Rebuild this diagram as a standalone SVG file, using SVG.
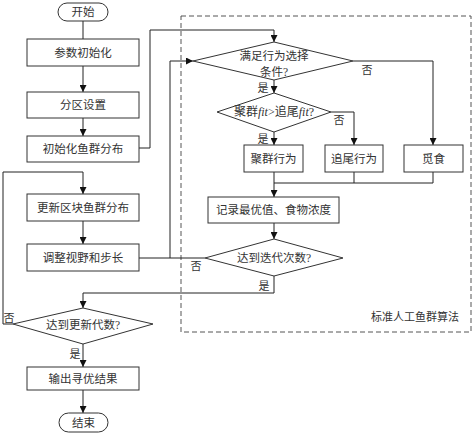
<svg xmlns="http://www.w3.org/2000/svg" width="474" height="435" viewBox="0 0 474 435">
<defs>
<marker id="ah" viewBox="0 0 10 10" refX="10" refY="5" markerWidth="7" markerHeight="7" orient="auto" markerUnits="userSpaceOnUse">
<path d="M0,0 L10,5 L0,10 z" fill="#111"/>
</marker>
<style>
.n{fill:#fff;stroke:#333;stroke-width:1}
.t{font-family:"Liberation Serif","Noto Sans CJK SC",serif;font-size:11.5px;fill:#333;text-anchor:middle;dominant-baseline:central}
.l{font-family:"Liberation Serif","Noto Sans CJK SC",serif;font-size:11px;fill:#333;text-anchor:middle;dominant-baseline:central}
.c{fill:none;stroke:#222;stroke-width:1}
.a{marker-end:url(#ah)}
</style>
</defs>
<rect x="0" y="0" width="474" height="435" fill="#fff"/>
<g id="group-box">
<rect x="181" y="16" width="290" height="316" fill="none" stroke="#555" stroke-width="1" stroke-dasharray="5,3"/>
<text class="l" x="415" y="317">标准人工鱼群算法</text>
</g>
<g id="connectors">
<line class="c" x1="83" y1="21" x2="83" y2="39"/>
<line class="c a" x1="83" y1="66" x2="83" y2="92"/>
<line class="c a" x1="83" y1="118" x2="83" y2="136"/>
<polyline class="c a" points="139,148 150,148 150,30 274,30 274,42"/>
<polyline class="c a" points="13,324 3,324 3,172 83,172 83,194"/>
<line class="c a" x1="83" y1="221" x2="83" y2="244"/>
<polyline class="c" points="139,258 205,258"/>
<polyline class="c a" points="170,258 170,61 193,61"/>
<polyline class="c a" points="353,61 433,61 433,145"/>
<line class="c a" x1="274" y1="80" x2="274" y2="93"/>
<line class="c a" x1="274" y1="132" x2="274" y2="145"/>
<polyline class="c a" points="331,112 354,112 354,145"/>
<polyline class="c" points="274,172 274,183 433,183 433,172"/>
<line class="c" x1="354" y1="172" x2="354" y2="183"/>
<line class="c a" x1="274" y1="183" x2="274" y2="197"/>
<line class="c a" x1="274" y1="223" x2="274" y2="239"/>
<polyline class="c a" points="274,276 274,293 83,293 83,308"/>
<line class="c a" x1="83" y1="344" x2="83" y2="367"/>
<line class="c a" x1="83" y1="390" x2="83" y2="413"/>
<text class="l" x="367" y="70">否</text>
<text class="l" x="263" y="88">是</text>
<text class="l" x="339" y="120">否</text>
<text class="l" x="263" y="139">是</text>
<text class="l" x="196" y="266">否</text>
<text class="l" x="264" y="286">是</text>
<text class="l" x="9" y="318">否</text>
<text class="l" x="75" y="354">是</text>
</g>
<g id="start"><rect class="n" x="58" y="3" width="50" height="18" rx="9"/><text class="t" x="83" y="12">开始</text></g>
<g id="init-params"><rect class="n" x="27" y="39" width="112" height="27"/><text class="t" x="83" y="52.5">参数初始化</text></g>
<g id="partition"><rect class="n" x="27" y="92" width="112" height="26"/><text class="t" x="83" y="105">分区设置</text></g>
<g id="init-fish"><rect class="n" x="27" y="136" width="112" height="26"/><text class="t" x="83" y="149">初始化鱼群分布</text></g>
<g id="update-block"><rect class="n" x="27" y="194" width="112" height="27"/><text class="t" x="83" y="207.5">更新区块鱼群分布</text></g>
<g id="adjust"><rect class="n" x="27" y="244" width="112" height="27"/><text class="t" x="83" y="257.5">调整视野和步长</text></g>
<g id="cond-behavior"><polygon class="n" points="274,42 353,61 274,80 193,61"/><text class="t" x="274" y="56">满足行为选择</text><text class="t" x="274" y="72">条件?</text></g>
<g id="cond-fit"><polygon class="n" points="274,93 331,112 274,132 217,112"/><text class="t" x="274" y="112" style="font-size:12px">聚群<tspan font-style="italic">fit</tspan>&gt;追尾<tspan font-style="italic">fit</tspan>?</text></g>
<g id="swarm"><rect class="n" x="244" y="145" width="59" height="27"/><text class="t" x="273.5" y="158.5">聚群行为</text></g>
<g id="follow"><rect class="n" x="325" y="145" width="58" height="27"/><text class="t" x="354" y="158.5">追尾行为</text></g>
<g id="forage"><rect class="n" x="404" y="145" width="59" height="27"/><text class="t" x="433.5" y="158.5">觅食</text></g>
<g id="record"><rect class="n" x="208" y="197" width="131" height="26"/><text class="t" x="273.5" y="210">记录最优值、食物浓度</text></g>
<g id="cond-iter"><polygon class="n" points="274,239 343,258 274,276 205,258"/><text class="t" x="274" y="258">达到迭代次数?</text></g>
<g id="cond-update"><polygon class="n" points="83,308 153,324 83,344 13,324"/><text class="t" x="83" y="325">达到更新代数?</text></g>
<g id="output"><rect class="n" x="27" y="367" width="112" height="23"/><text class="t" x="83" y="378.5">输出寻优结果</text></g>
<g id="end"><rect class="n" x="59" y="413" width="49" height="19" rx="9.5"/><text class="t" x="83.5" y="422.5">结束</text></g>
</svg>
